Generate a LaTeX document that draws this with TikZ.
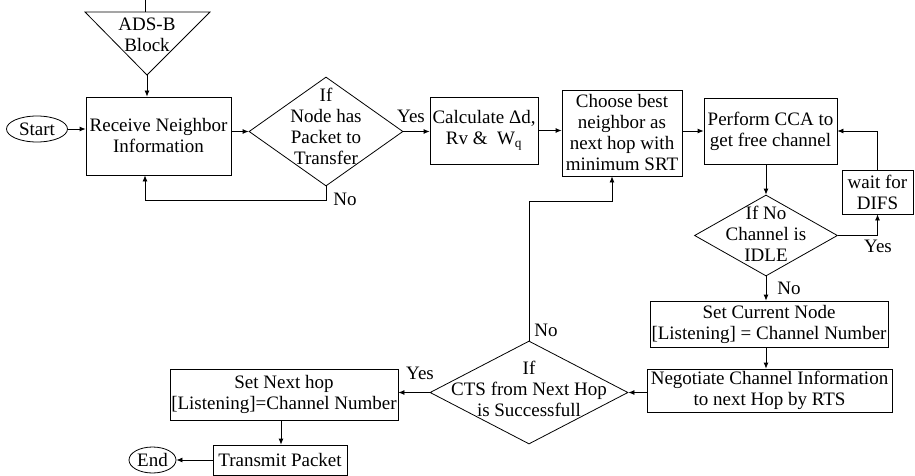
\documentclass[tikz,border=0pt]{standalone}
\usepackage{fontspec}
\setmainfont{Liberation Serif}
\usetikzlibrary{arrows.meta,shapes.geometric}
\begin{document}
\begin{tikzpicture}[x=1pt,y=-1pt,
  every node/.style={font=\fontsize{19}{21}\selectfont, inner sep=1pt},
  box/.style={draw, line width=0.8pt, align=center},
  oval/.style={draw, ellipse, line width=0.8pt, inner sep=0pt},
  dia/.style={draw, diamond, line width=0.8pt, inner sep=0pt},
  txt/.style={align=center, inner sep=0pt},
  lbl/.style={inner sep=0pt},
  line/.style={line width=0.8pt},
  arr/.style={line width=0.8pt, -{Latex[length=6pt,width=5pt]}}]
\useasboundingbox (0,0) rectangle (915,476);

% ADS-B triangle
\coordinate (adsL) at (85,12);
\coordinate (adsR) at (210,12);
\coordinate (adsA) at (147,75);
\coordinate (adsTop) at (145,0);
\coordinate (adsTopB) at (145,12);
\draw[line] (adsL) -- (adsR) -- (adsA) -- cycle;
\draw[line] (adsTop) -- (adsTopB);
\node[txt] (ads) at (147,35) {ADS-B\\Block};

% nodes
\node[oval, minimum width=61pt, minimum height=26pt] (start) at (37,129) {Start};
\node[box, minimum width=145pt, minimum height=78pt] (recv) at (158.5,136) {Receive Neighbor\\Information};
\node[dia, minimum width=154pt, minimum height=109pt] (d1) at (326,131.5) {};
\node[txt] (d1t) at (326,126) {If\\Node has\\Packet to\\Transfer};
\node[box, minimum width=108pt, minimum height=67pt] (calc) at (484,130.5) {Calculate Δd,\\Rv \&\ \ W\textsubscript{q}};
\node[box, minimum width=120pt, minimum height=86pt] (choose) at (622,133) {Choose best\\neighbor as\\next hop with\\minimum SRT};
\node[box, minimum width=133pt, minimum height=66pt] (cca) at (770.5,131) {Perform CCA to\\get free channel};
\node[box, minimum width=71pt, minimum height=44pt] (wait) at (877.5,192) {wait for\\DIFS};
\node[dia, minimum width=143pt, minimum height=81pt] (d2) at (766,235.5) {};
\node[txt] (d2t) at (766,233.5) {If No\\Channel is\\IDLE};
\node[box, minimum width=238pt, minimum height=46pt] (setcur) at (769,324) {Set Current Node\\{[Listening]} = Channel Number};
\node[box, minimum width=245pt, minimum height=43pt] (neg) at (769.5,390.5) {Negotiate Channel Information\\to next Hop by RTS};
\node[dia, minimum width=198pt, minimum height=103pt] (d3) at (529,392.5) {};
\node[txt] (d3t) at (529,389) {If\\CTS from Next Hop\\is Successfull};
\node[box, minimum width=228pt, minimum height=51pt] (setnext) at (284,394.5) {Set Next hop\\{[Listening]}=Channel Number};
\node[box, minimum width=134pt, minimum height=30pt] (trans) at (280,460) {Transmit Packet};
\node[oval, minimum width=47pt, minimum height=26pt] (end) at (152.5,460) {End};

% connectors
\draw[arr] (adsA) -- (adsA |- recv.north);
\draw[arr] (start.east) -- (start.east -| recv.west);
\draw[arr] (recv.east |- d1.west) -- (d1.west);
\draw[arr] (d1.east) -- (d1.east -| calc.west);
\node[lbl] (y1) at (411,116) {Yes};
\coordinate (noloop) at (326,200);
\draw[arr] (d1.south) -- (noloop) -| ([xshift=-13.5pt]recv.south);
\node[lbl] (n1) at (345,199) {No};
\draw[arr] (calc.east) -- (calc.east -| choose.west);
\draw[arr] (choose.east |- cca.west) -- (cca.west);
\draw[arr] ([xshift=-4.5pt]cca.south) -- (d2.north);
\draw[arr] (d2.east) -| (wait.south);
\node[lbl] (y2) at (878,246) {Yes};
\draw[arr] (wait.north) |- (cca.east);
\draw[arr] (d2.south) -- (d2.south |- setcur.north);
\node[lbl] (n2) at (789,288) {No};
\draw[arr] (d2.south |- setcur.south) -- (d2.south |- neg.north);
\draw[arr] (neg.west |- d3.east) -- (d3.east);
\coordinate (nojoin) at (529,201);
\draw[arr] (d3.north) -- (nojoin) -| ([xshift=-10pt]choose.south);
\node[lbl] (n3) at (546,330) {No};
\draw[arr] (d3.west) -- (d3.west -| setnext.east);
\node[lbl] (y3) at (420,373) {Yes};
\draw[arr] ([xshift=-3pt]setnext.south) -- ([xshift=-3pt]setnext.south |- trans.north);
\draw[arr] (trans.west) -- (end.east);
\end{tikzpicture}
\end{document}
